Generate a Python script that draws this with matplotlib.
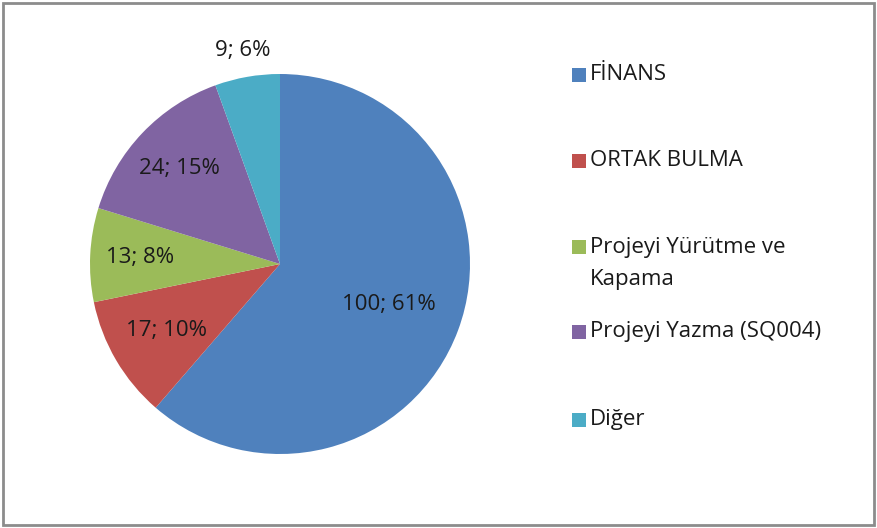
import numpy as np
import matplotlib
matplotlib.use("Agg")
import matplotlib.pyplot as plt
from matplotlib.patches import Rectangle

plt.rcParams['font.family'] = ['Open Sans', 'DejaVu Sans']

# veriler
categories = ["FİNANS", "ORTAK BULMA", "Projeyi Yürütme ve Kapama",
              "Projeyi Yazma (SQ004)", "Diğer"]
legend_lines = [["FİNANS"], ["ORTAK BULMA"], ["Projeyi Yürütme ve", "Kapama"],
                ["Projeyi Yazma (SQ004)"], ["Diğer"]]
values = [100, 17, 13, 24, 9]
colors = ["#4F81BD", "#C0504D", "#9BBB59", "#8064A2", "#4BACC6"]

W, H = 877, 528
fig = plt.figure(figsize=(W / 100, H / 100), dpi=100)

# pasta: merkez (280, 264) px, yarıçap 190 px
cx, cy, r = 280, 264, 190
ax = fig.add_axes([(cx - r) / W, (H - cy - r) / H, 2 * r / W, 2 * r / H])
wedges, _ = ax.pie(values, colors=colors, startangle=90, counterclock=False,
                   radius=1, wedgeprops=dict(linewidth=0))
ax.set_xlim(-1, 1)
ax.set_ylim(-1, 1)
ax.set_aspect("equal")
ax.axis("off")

# veri etiketleri
total = sum(values)
label_dist = [0.61, 0.69, 0.74, 0.73, 1.14]
for w, v, d in zip(wedges, values, label_dist):
    ang = np.deg2rad((w.theta1 + w.theta2) / 2)
    pct = round(100 * v / total)
    ax.text(d * np.cos(ang), d * np.sin(ang), f"{v}; {pct}%",
            ha="center", va="center", fontsize=16, color="#1a1a1a")

# lejant
legend_y = [75, 161, 247, 332, 420]
for lines, c, y in zip(legend_lines, colors, legend_y):
    fig.patches.append(Rectangle((572 / W, 1 - (y + 7) / H), 14 / W, 14 / H,
                                 transform=fig.transFigure, facecolor=c,
                                 edgecolor="none"))
    for k, line in enumerate(lines):
        fig.text(590 / W, 1 - (y + 32 * k) / H, line, ha="left", va="center",
                 fontsize=16, color="#1a1a1a")

# çerçeve
fig.patches.append(Rectangle((3 / W, 3 / H), (W - 6) / W, (H - 6) / H,
                             transform=fig.transFigure, facecolor="none",
                             edgecolor="#8c8c8c", linewidth=2))

fig.savefig("out.png", dpi=100, facecolor="white")
